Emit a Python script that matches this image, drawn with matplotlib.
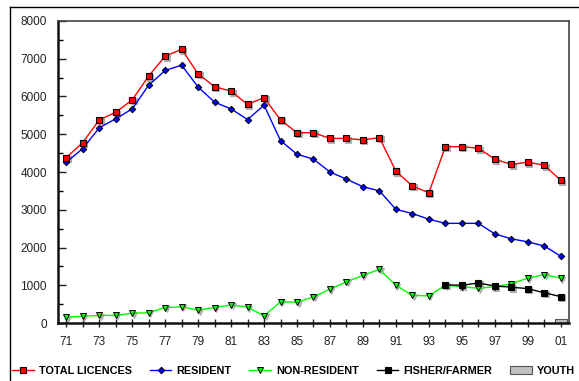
import matplotlib
matplotlib.use("Agg")
import matplotlib.pyplot as plt
from matplotlib.lines import Line2D
from matplotlib.transforms import offset_copy
import numpy as np

plt.rcParams['font.family'] = ['Liberation Sans', 'DejaVu Sans']

# licence counts by season, 1971-2001
years = ['71', '72', '73', '74', '75', '76', '77', '78', '79', '80',
         '81', '82', '83', '84', '85', '86', '87', '88', '89', '90',
         '91', '92', '93', '94', '95', '96', '97', '98', '99', '00', '01']
total = [4380, 4780, 5380, 5580, 5910, 6540, 7070, 7250, 6600, 6260,
         6140, 5790, 5970, 5380, 5040, 5040, 4890, 4890, 4850, 4910,
         4020, 3630, 3450, 4670, 4670, 4630, 4340, 4200, 4260, 4180, 3780]
resident = [4260, 4620, 5170, 5410, 5670, 6300, 6690, 6830, 6250, 5850,
            5670, 5390, 5770, 4830, 4470, 4340, 4000, 3810, 3610, 3500,
            3010, 2900, 2750, 2640, 2640, 2640, 2360, 2230, 2150, 2040, 1770]
non_resident = [150, 180, 200, 200, 260, 270, 410, 430, 340, 410,
                480, 420, 190, 560, 550, 690, 900, 1090, 1260, 1420,
                1000, 730, 720, 1000, 960, 920, 960, 1040, 1190, 1280, 1190]
fisher_years = ['94', '95', '96', '97', '98', '99', '00', '01']
fisher = [1010, 1000, 1060, 980, 950, 910, 800, 700]
youth_years = ['01']
youth = [110]

x = np.arange(len(years))
xf = np.array([years.index(y) for y in fisher_years])
xy = np.array([years.index(y) for y in youth_years])

fig = plt.figure(figsize=(5.79, 3.81), dpi=100)
ax = fig.add_axes([0.1002, 0.1522, 0.8825, 0.7927])

# soft grey drop shadow under the marker series
shade = offset_copy(ax.transData, fig=fig, x=1.5, y=-1.5, units='dots')
for xs, ys, m, s in [(x, non_resident, 'v', 4.2), (xf, fisher, 's', 5), (x, total, 's', 5)]:
    ax.plot(xs, ys, ls='none', marker=m, ms=s, mfc='#b0b0b0', mec='#b0b0b0',
            mew=0.8, transform=shade, zorder=2.5)

ax.bar(xy, youth, width=0.72, color='#c0c0c0', edgecolor='#555555', linewidth=0.8,
       label='YOUTH', zorder=2)
ax.plot(x, non_resident, color='#00ff00', lw=1, marker='v', ms=4.2, mfc='#00ff00',
        mec='black', mew=0.7, label='NON-RESIDENT', zorder=3)
ax.plot(xf, fisher, color='black', lw=1, marker='s', ms=5, mfc='black',
        mec='black', mew=0.8, label='FISHER/FARMER', zorder=4)
ax.plot(x, resident, color='#0000ff', lw=1, marker='D', ms=3.3, mfc='#0000ff',
        mec='black', mew=0.7, label='RESIDENT', zorder=5)
ax.plot(x, total, color='#ff0000', lw=1, marker='s', ms=5, mfc='#ff0000',
        mec='black', mew=0.8, label='TOTAL LICENCES', zorder=6)

ax.set_xlim(-0.5, len(years) - 0.5)
ax.set_ylim(0, 8000)
ax.set_yticks(np.arange(0, 8001, 1000))
ax.set_yticks(np.arange(500, 8000, 1000), minor=True)
ax.set_xticks(x)
ax.set_xticklabels([y if i % 2 == 0 else '' for i, y in enumerate(years)])

for s in ['left', 'bottom']:
    ax.spines[s].set_linewidth(1.8)
    ax.spines[s].set_color('#111111')
for s in ['top', 'right']:
    ax.spines[s].set_linewidth(1.2)
    ax.spines[s].set_color('#444444')

ax.tick_params(axis='y', which='major', direction='in', length=6, width=1,
               labelsize=8.5, colors='#222222', pad=8)
ax.tick_params(axis='y', which='minor', direction='in', length=3.5, width=1)
ax.tick_params(axis='x', which='major', direction='inout', length=6, width=1,
               labelsize=8.5, colors='#222222', pad=6)

handles, labels = ax.get_legend_handles_labels()
order = ['TOTAL LICENCES', 'RESIDENT', 'NON-RESIDENT', 'FISHER/FARMER', 'YOUTH']
hmap = dict(zip(labels, handles))
leg = fig.legend([hmap[k] for k in order], order, loc='center', ncol=5,
                 bbox_to_anchor=(0.507, 0.027), frameon=False,
                 prop={'weight': 'bold', 'size': 7.8}, handlelength=2.0,
                 handletextpad=0.46, columnspacing=1.66, markerscale=1.0)

# outer frame lines
fig.add_artist(Line2D([10 / 579, 1], [1 - 7 / 381, 1 - 7 / 381], color='black', lw=1,
                      transform=fig.transFigure))
fig.add_artist(Line2D([10 / 579, 10 / 579], [0, 1 - 7 / 381], color='black', lw=1,
                      transform=fig.transFigure))

fig.savefig('out.png', dpi=100)
